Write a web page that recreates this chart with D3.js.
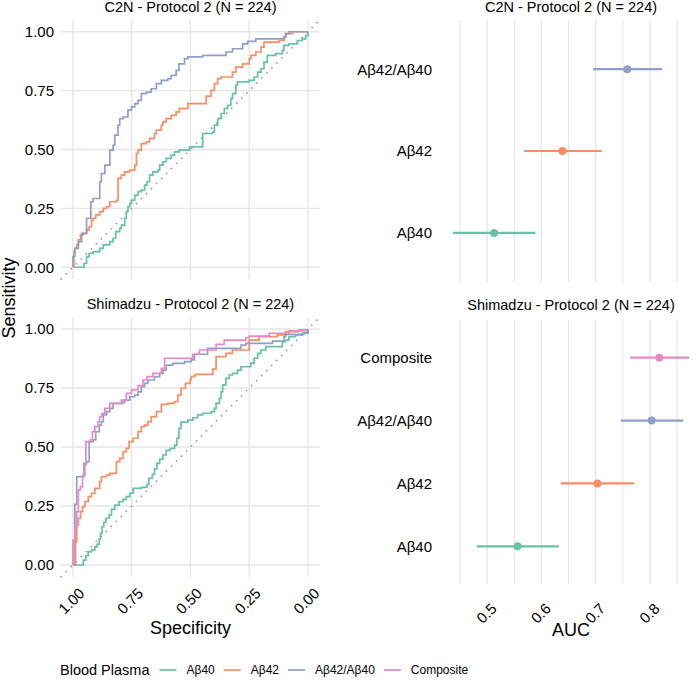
<!DOCTYPE html>
<html>
<head>
<meta charset="utf-8">
<script src="https://cdn.jsdelivr.net/npm/d3@7"></script>
<style>
body { margin: 0; background: #fff; }
svg text { font-family: "Liberation Sans", Arial, sans-serif; fill: #000; }
</style>
</head>
<body>
<div id="chart"></div>
<script>
// markers in legend order
var markers = ["Aβ40", "Aβ42", "Aβ42/Aβ40", "Composite"];
var markerColors = ["#66C2A5", "#FC8D62", "#8DA0CB", "#E78AC3"];

// ROC curves, [specificity, sensitivity] where sensitivity steps up
var c2nA40 = [[1,0],[0.953,0.017],[0.942,0.045],[0.931,0.059],[0.914,0.066],[0.886,0.08],[0.871,0.095],[0.843,0.109],[0.829,0.123],[0.818,0.151],[0.801,0.165],[0.794,0.179],[0.78,0.208],[0.773,0.236],[0.766,0.257],[0.758,0.271],[0.751,0.285],[0.737,0.306],[0.723,0.321],[0.709,0.328],[0.695,0.349],[0.685,0.363],[0.674,0.391],[0.66,0.405],[0.638,0.412],[0.631,0.434],[0.617,0.448],[0.603,0.462],[0.582,0.476],[0.568,0.49],[0.547,0.497],[0.504,0.511],[0.448,0.568],[0.405,0.575],[0.398,0.603],[0.384,0.631],[0.37,0.653],[0.356,0.674],[0.342,0.688],[0.328,0.716],[0.321,0.737],[0.307,0.773],[0.3,0.787],[0.25,0.794],[0.229,0.808],[0.214,0.829],[0.2,0.843],[0.187,0.871],[0.173,0.9],[0.137,0.907],[0.109,0.921],[0.102,0.942],[0.081,0.949],[0.045,0.963],[0.024,0.97],[0.01,0.984],[0,1]];
var c2nA42 = [[1,0],[0.996,0.066],[0.992,0.08],[0.984,0.095],[0.977,0.116],[0.968,0.137],[0.956,0.144],[0.942,0.158],[0.931,0.172],[0.921,0.2],[0.914,0.208],[0.903,0.222],[0.886,0.236],[0.871,0.25],[0.857,0.257],[0.843,0.278],[0.815,0.285],[0.808,0.377],[0.794,0.391],[0.78,0.405],[0.758,0.412],[0.737,0.434],[0.73,0.483],[0.723,0.497],[0.709,0.525],[0.688,0.532],[0.674,0.547],[0.653,0.568],[0.645,0.582],[0.624,0.603],[0.617,0.617],[0.603,0.631],[0.582,0.645],[0.561,0.66],[0.547,0.674],[0.511,0.695],[0.433,0.727],[0.413,0.751],[0.398,0.78],[0.384,0.801],[0.37,0.808],[0.321,0.829],[0.307,0.85],[0.278,0.864],[0.25,0.886],[0.243,0.9],[0.222,0.914],[0.2,0.935],[0.187,0.956],[0.123,0.963],[0.102,0.977],[0.095,0.992],[0.066,1],[0,1]];
var c2nRatio = [[1,0],[1,0.045],[0.992,0.08],[0.977,0.109],[0.963,0.144],[0.942,0.208],[0.924,0.278],[0.914,0.292],[0.886,0.363],[0.879,0.398],[0.864,0.434],[0.843,0.497],[0.829,0.518],[0.822,0.561],[0.808,0.603],[0.801,0.631],[0.787,0.638],[0.766,0.667],[0.751,0.681],[0.737,0.695],[0.723,0.709],[0.709,0.737],[0.688,0.744],[0.667,0.758],[0.645,0.78],[0.624,0.794],[0.596,0.801],[0.582,0.815],[0.561,0.836],[0.549,0.864],[0.525,0.886],[0.511,0.893],[0.448,0.9],[0.349,0.914],[0.321,0.928],[0.278,0.949],[0.257,0.959],[0.222,0.97],[0.102,0.977],[0.095,0.992],[0.081,1],[0,1]];

var shimA40 = [[1,0],[0.956,0.021],[0.945,0.04],[0.935,0.056],[0.921,0.064],[0.907,0.078],[0.897,0.088],[0.888,0.11],[0.883,0.134],[0.876,0.162],[0.869,0.181],[0.86,0.198],[0.846,0.212],[0.836,0.237],[0.822,0.254],[0.804,0.268],[0.787,0.278],[0.773,0.29],[0.758,0.304],[0.744,0.325],[0.709,0.329],[0.685,0.342],[0.677,0.367],[0.662,0.384],[0.653,0.407],[0.643,0.431],[0.631,0.449],[0.617,0.466],[0.603,0.486],[0.586,0.494],[0.568,0.508],[0.558,0.537],[0.549,0.579],[0.54,0.605],[0.511,0.614],[0.49,0.624],[0.469,0.636],[0.448,0.643],[0.412,0.65],[0.398,0.664],[0.391,0.685],[0.377,0.706],[0.37,0.734],[0.363,0.763],[0.349,0.791],[0.335,0.805],[0.321,0.812],[0.3,0.826],[0.285,0.84],[0.243,0.855],[0.229,0.876],[0.214,0.897],[0.2,0.911],[0.179,0.925],[0.109,0.946],[0.095,0.953],[0.081,0.968],[0.053,0.975],[0.024,0.982],[0,1]];
var shimA42 = [[1,0],[0.989,0.099],[0.984,0.169],[0.977,0.198],[0.968,0.226],[0.959,0.247],[0.949,0.268],[0.935,0.29],[0.921,0.304],[0.907,0.325],[0.886,0.353],[0.879,0.374],[0.857,0.381],[0.843,0.388],[0.815,0.438],[0.801,0.452],[0.787,0.48],[0.773,0.494],[0.761,0.523],[0.744,0.537],[0.723,0.565],[0.709,0.586],[0.695,0.593],[0.681,0.607],[0.667,0.629],[0.645,0.65],[0.624,0.681],[0.596,0.685],[0.568,0.692],[0.554,0.72],[0.54,0.749],[0.521,0.77],[0.501,0.784],[0.497,0.798],[0.483,0.805],[0.476,0.808],[0.405,0.83],[0.391,0.883],[0.349,0.897],[0.321,0.911],[0.25,0.953],[0.208,0.968],[0.13,0.975],[0.095,0.989],[0.038,0.996],[0,1]];
var shimRatio = [[1,0],[0.996,0.1],[0.992,0.257],[0.984,0.374],[0.953,0.431],[0.942,0.438],[0.931,0.523],[0.914,0.53],[0.903,0.565],[0.888,0.593],[0.879,0.607],[0.871,0.636],[0.857,0.65],[0.843,0.664],[0.829,0.685],[0.787,0.689],[0.78,0.699],[0.758,0.713],[0.737,0.72],[0.723,0.734],[0.709,0.756],[0.695,0.77],[0.681,0.784],[0.653,0.798],[0.631,0.812],[0.617,0.826],[0.603,0.847],[0.575,0.854],[0.525,0.862],[0.497,0.869],[0.483,0.893],[0.427,0.918],[0.285,0.932],[0.264,0.939],[0.151,0.949],[0.102,0.968],[0.095,0.977],[0.017,0.986],[0,1]];
var shimComp = [[1,0],[1,0.106],[0.992,0.155],[0.984,0.226],[0.977,0.318],[0.968,0.332],[0.959,0.381],[0.949,0.424],[0.945,0.523],[0.925,0.53],[0.917,0.565],[0.907,0.586],[0.893,0.607],[0.886,0.629],[0.876,0.643],[0.864,0.664],[0.843,0.685],[0.794,0.699],[0.773,0.727],[0.751,0.742],[0.723,0.76],[0.702,0.784],[0.685,0.798],[0.66,0.812],[0.624,0.833],[0.61,0.876],[0.49,0.893],[0.462,0.911],[0.391,0.935],[0.356,0.953],[0.264,0.963],[0.25,0.97],[0.165,0.982],[0.081,0.992],[0.024,0.996],[0,1]];

// AUC with 95% CI
var c2nLabels = ["Aβ42/Aβ40", "Aβ42", "Aβ40"];
var c2nAuc   = [0.758, 0.639, 0.513];
var c2nLower = [0.695, 0.568, 0.437];
var c2nUpper = [0.822, 0.711, 0.589];

var shimLabels = ["Composite", "Aβ42/Aβ40", "Aβ42", "Aβ40"];
var shimAuc   = [0.817, 0.803, 0.703, 0.556];
var shimLower = [0.763, 0.746, 0.636, 0.481];
var shimUpper = [0.872, 0.861, 0.771, 0.632];

var rocTicks = [0, 0.25, 0.5, 0.75, 1];
var aucTicks = [0.5, 0.6, 0.7, 0.8];
var aucMinor = [0.45, 0.55, 0.65, 0.75, 0.85];

var width = 697, height = 680;
var grid = "#E6E6E6";

var svg = d3.select("#chart")
  .append("svg")
    .attr("width", width)
    .attr("height", height);

var color = d3.scaleOrdinal().domain(markers).range(markerColors);

function rocPanel(top, bottom, title, curves, showX) {
  var x = d3.scaleLinear().domain([1.05, -0.05]).range([61.2, 319.7]);
  var y = d3.scaleLinear().domain([-0.05, 1.05]).range([bottom, top]);
  var g = svg.append("g");

  g.selectAll(".hg").data(rocTicks).enter().append("line")
    .attr("x1", x.range()[0]).attr("x2", x.range()[1])
    .attr("y1", function(d) { return y(d); }).attr("y2", function(d) { return y(d); })
    .attr("stroke", grid).attr("stroke-width", 1.4);
  g.selectAll(".vg").data(rocTicks).enter().append("line")
    .attr("y1", y.range()[0]).attr("y2", y.range()[1])
    .attr("x1", function(d) { return x(d); }).attr("x2", function(d) { return x(d); })
    .attr("stroke", grid).attr("stroke-width", 1.4);

  // chance line
  g.append("line")
    .attr("x1", x(1.05)).attr("y1", y(-0.05))
    .attr("x2", x(-0.05)).attr("y2", y(1.05))
    .attr("stroke", "#999").attr("stroke-width", 1.7)
    .attr("stroke-linecap", "round")
    .attr("stroke-dasharray", "0.1 7");

  var line = d3.line()
    .x(function(d) { return x(d[0]); })
    .y(function(d) { return y(d[1]); })
    .curve(d3.curveStepAfter);

  curves.forEach(function(c) {
    g.append("path")
      .attr("d", line(c.values))
      .attr("fill", "none")
      .attr("stroke", color(c.name))
      .attr("stroke-width", 1.7);
  });

  g.selectAll(".yl").data(rocTicks).enter().append("text")
    .attr("x", 54).attr("y", function(d) { return y(d); })
    .attr("dy", "0.36em")
    .attr("text-anchor", "end")
    .style("font-size", "15px")
    .text(d3.format(".2f"));

  g.append("text")
    .attr("x", (x.range()[0] + x.range()[1]) / 2)
    .attr("y", top - 8)
    .attr("text-anchor", "middle")
    .style("font-size", "14.5px")
    .text(title);

  if (showX) {
    g.selectAll(".xl").data(rocTicks).enter().append("text")
      .attr("transform", function(d) { return "translate(" + (x(d) + 5) + "," + (bottom + 10) + ")rotate(-45)"; })
      .attr("dy", "0.71em")
      .attr("text-anchor", "end")
      .style("font-size", "15px")
      .text(d3.format(".2f"));
  }
}

function aucPanel(top, bottom, titleY, title, labels, auc, lower, upper, showX) {
  var allLo = d3.min(c2nLower.concat(shimLower));
  var allHi = d3.max(c2nUpper.concat(shimUpper));
  var pad = (allHi - allLo) * 0.05;
  var x = d3.scaleLinear().domain([allLo - pad, allHi + pad]).range([441, 701]);
  var y = d3.scalePoint().domain(labels).range([top, bottom]).padding(0.6);
  var g = svg.append("g");

  g.selectAll(".mg").data(aucMinor).enter().append("line")
    .attr("y1", top).attr("y2", bottom)
    .attr("x1", function(d) { return x(d); }).attr("x2", function(d) { return x(d); })
    .attr("stroke", grid).attr("stroke-width", 1.1);
  g.selectAll(".vg").data(aucTicks).enter().append("line")
    .attr("y1", top).attr("y2", bottom)
    .attr("x1", function(d) { return x(d); }).attr("x2", function(d) { return x(d); })
    .attr("stroke", grid).attr("stroke-width", 1.4);

  var rows = labels.map(function(l, i) { return {name: l, auc: auc[i], lo: lower[i], hi: upper[i]}; });

  g.selectAll(".ci").data(rows).enter().append("line")
    .attr("x1", function(d) { return x(d.lo); }).attr("x2", function(d) { return x(d.hi); })
    .attr("y1", function(d) { return y(d.name); }).attr("y2", function(d) { return y(d.name); })
    .attr("stroke", function(d) { return color(d.name); })
    .attr("stroke-width", 2.2);
  g.selectAll(".pt").data(rows).enter().append("circle")
    .attr("cx", function(d) { return x(d.auc); })
    .attr("cy", function(d) { return y(d.name); })
    .attr("r", 4)
    .attr("fill", function(d) { return color(d.name); });

  g.selectAll(".yl").data(labels).enter().append("text")
    .attr("x", 432).attr("y", function(d) { return y(d); })
    .attr("dy", "0.36em")
    .attr("text-anchor", "end")
    .style("font-size", "15px")
    .text(function(d) { return d; });

  g.append("text")
    .attr("x", 571).attr("y", titleY)
    .attr("text-anchor", "middle")
    .style("font-size", "14.5px")
    .text(title);

  if (showX) {
    g.selectAll(".xl").data(aucTicks).enter().append("text")
      .attr("transform", function(d) { return "translate(" + (x(d) + 3) + "," + (bottom + 18) + ")rotate(-45)"; })
      .attr("dy", "0.71em")
      .attr("text-anchor", "end")
      .style("font-size", "15px")
      .text(d3.format(".1f"));
  }
}

rocPanel(20, 279, "C2N - Protocol 2 (N = 224)", [
  {name: "Aβ40", values: c2nA40},
  {name: "Aβ42", values: c2nA42},
  {name: "Aβ42/Aβ40", values: c2nRatio}
], false);

rocPanel(317.2, 576.8, "Shimadzu - Protocol 2 (N = 224)", [
  {name: "Aβ40", values: shimA40},
  {name: "Aβ42", values: shimA42},
  {name: "Aβ42/Aβ40", values: shimRatio},
  {name: "Composite", values: shimComp}
], true);

aucPanel(20, 282, 12, "C2N - Protocol 2 (N = 224)", c2nLabels, c2nAuc, c2nLower, c2nUpper, false);
aucPanel(320, 584, 310, "Shimadzu - Protocol 2 (N = 224)", shimLabels, shimAuc, shimLower, shimUpper, true);

// axis titles
svg.append("text")
  .attr("x", 190.5).attr("y", 634)
  .attr("text-anchor", "middle")
  .style("font-size", "18px")
  .text("Specificity");

svg.append("text")
  .attr("x", 571).attr("y", 636)
  .attr("text-anchor", "middle")
  .style("font-size", "18px")
  .text("AUC");

svg.append("text")
  .attr("transform", "translate(15,298)rotate(-90)")
  .attr("text-anchor", "middle")
  .style("font-size", "18px")
  .text("Sensitivity");

// legend
var leg = svg.append("g");
var lt = leg.append("text")
  .attr("x", 60).attr("y", 675)
  .style("font-size", "14.5px")
  .text("Blood Plasma");
var lx = 60 + lt.node().getComputedTextLength() + 10;
markers.forEach(function(m) {
  leg.append("line")
    .attr("x1", lx).attr("x2", lx + 17)
    .attr("y1", 670).attr("y2", 670)
    .attr("stroke", color(m)).attr("stroke-width", 1.7);
  var t = leg.append("text")
    .attr("x", lx + 27).attr("y", 674)
    .style("font-size", "12px")
    .text(m);
  lx = lx + 27 + t.node().getComputedTextLength() + 9;
});
</script>
</body>
</html>
